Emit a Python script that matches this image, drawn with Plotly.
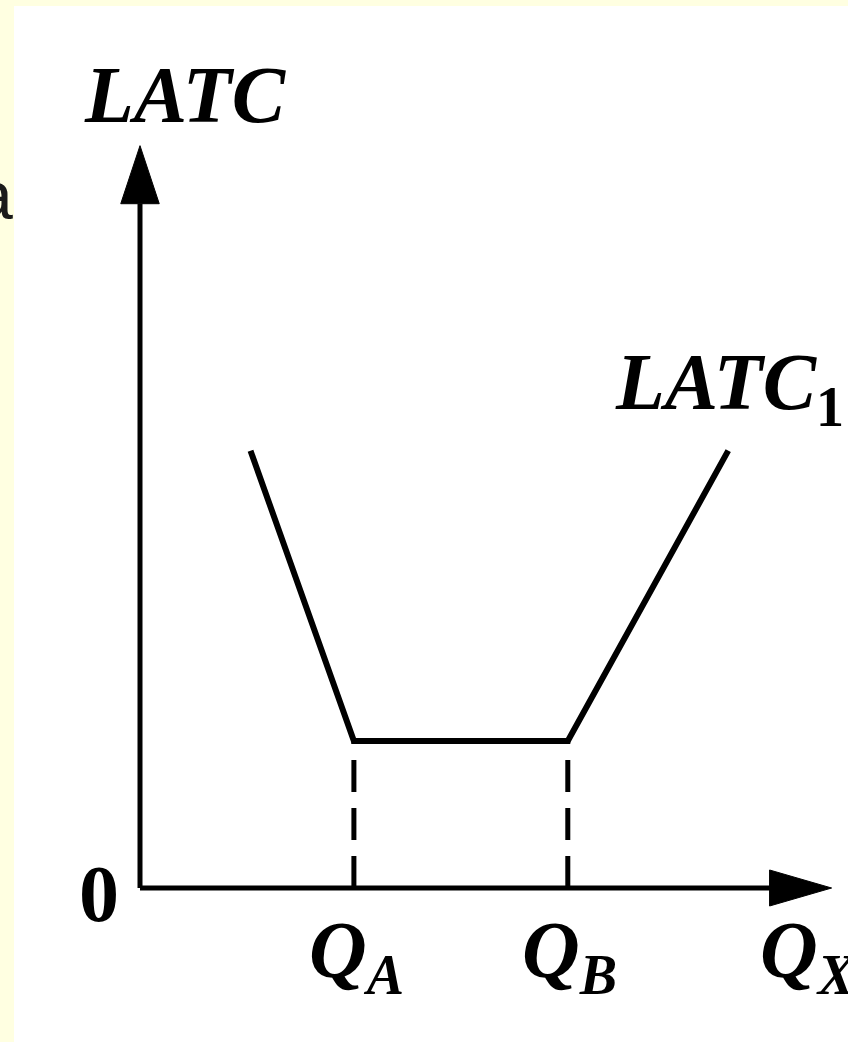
import plotly.graph_objects as go

# long run average total cost curve (LATC1), quantities on x, cost on y
latc_q = [1.55, 3.0, 6.0, 8.25]
latc_cost = [5.95, 2.0, 2.0, 5.95]

# the flat bottom of the curve
q_points = [3.0, 6.0]
q_labels = ["Q<sub>A</sub>", "Q<sub>B</sub>"]
min_cost = 2.0

# axis ends (arrow tips)
x_axis_end = 9.7
y_axis_end = 10.1

# axis ranges chosen so that the origin sits at the lower left of the sketch
x_range = [-1.9635, 9.9299]
y_range = [-2.0952, 12.0816]

ink = "#000000"
serif = "Liberation Serif"

fig = go.Figure()

# axes as plain lines
fig.add_trace(go.Scatter(x=[0, 0], y=[0, y_axis_end - 0.79], mode="lines",
                         line=dict(color=ink, width=5), hoverinfo="skip"))
fig.add_trace(go.Scatter(x=[0, x_axis_end - 0.87], y=[0, 0], mode="lines",
                         line=dict(color=ink, width=5), hoverinfo="skip"))

# arrow heads
fig.add_trace(go.Scatter(x=[-0.27, 0, 0.27, -0.27],
                         y=[y_axis_end - 0.79, y_axis_end, y_axis_end - 0.79, y_axis_end - 0.79],
                         mode="lines", fill="toself", fillcolor=ink,
                         line=dict(color=ink, width=1), hoverinfo="skip"))
fig.add_trace(go.Scatter(x=[x_axis_end - 0.87, x_axis_end, x_axis_end - 0.87, x_axis_end - 0.87],
                         y=[-0.245, 0, 0.245, -0.245],
                         mode="lines", fill="toself", fillcolor=ink,
                         line=dict(color=ink, width=1), hoverinfo="skip"))

# dashed drop lines from the flat part down to the axis
for q in q_points:
    fig.add_trace(go.Scatter(x=[q, q], y=[0, min_cost], mode="lines",
                             line=dict(color=ink, width=5, dash="32px,16px"),
                             hoverinfo="skip"))

# the LATC curve itself
fig.add_trace(go.Scatter(x=latc_q, y=latc_cost, mode="lines",
                         line=dict(color=ink, width=6), hoverinfo="skip"))

# labels
def label(text, x, y, size=80):
    fig.add_annotation(x=x, y=y, xref="x", yref="y", text=text, showarrow=False,
                       font=dict(family=serif, size=size, color=ink),
                       xanchor="center", yanchor="middle")

label("<b><i>LATC</i></b>", 0.645, 10.79)
label("<b><i>LATC</i><sub>1</sub></b>", 8.27, 6.80)
label("<b>0</b>", -0.57, -0.08)
for q, t in zip(q_points, q_labels):
    label("<b><i>" + t + "</i></b>", q + 0.03, -0.92)
label("<b><i>Q<sub>X</sub></i></b>", 9.38, -0.92)

# stray slide letter on the left edge
fig.add_annotation(x=15 / 848, y=1 - 195 / 1042, xref="paper", yref="paper", text="a",
                   showarrow=False, font=dict(family="Liberation Sans", size=68, color="#1a1a1a"),
                   xanchor="right", yanchor="middle")

fig.update_layout(
    width=848, height=1042,
    margin=dict(l=0, r=0, t=0, b=0),
    paper_bgcolor="#FFFFE1",
    plot_bgcolor="rgba(0,0,0,0)",
    showlegend=False,
    xaxis=dict(range=x_range, visible=False, fixedrange=True),
    yaxis=dict(range=y_range, visible=False, fixedrange=True),
    shapes=[dict(type="rect", xref="paper", yref="paper", x0=14 / 848, x1=1, y0=0, y1=1 - 6 / 1042,
                 fillcolor="white", line=dict(width=0), layer="below")],
)

# drop the browser's default body margin so the figure fills the window
fig.write_html("out.html", config={"displayModeBar": False},
               post_script="document.body.style.margin='0';")
